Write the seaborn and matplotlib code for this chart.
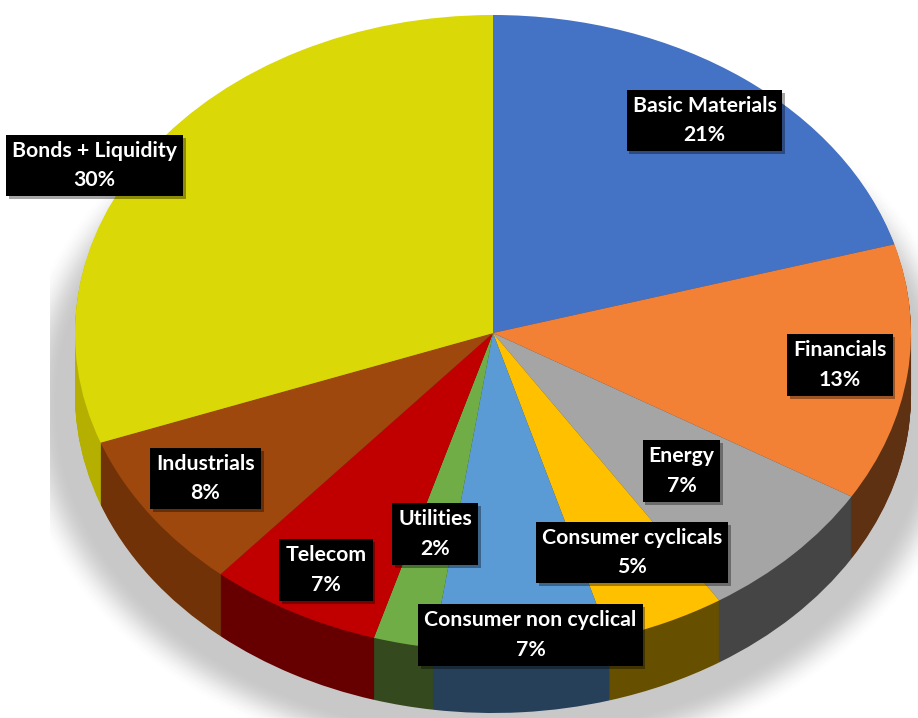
import matplotlib
matplotlib.use("Agg")
import matplotlib.pyplot as plt
import matplotlib.patheffects as pe
from matplotlib.patches import Ellipse, Rectangle
import numpy as np
import seaborn as sns

sectors = ["Basic Materials", "Financials", "Energy", "Consumer cyclicals",
           "Consumer non cyclical", "Utilities", "Telecom", "Industrials",
           "Bonds + Liquidity"]
shown_percent = [21, 13, 7, 5, 7, 2, 7, 8, 30]
slice_sizes = [20.5, 13.1, 7.3, 4.6, 6.8, 2.3, 6.7, 8.1, 30.6]
top_colors = ["#4472C4", "#F28135", "#A5A5A5", "#FFC000", "#5B9BD5",
              "#70AD47", "#C00000", "#9E480E", "#DBD807"]
wall_colors = ["#2A4478", "#5E3113", "#454545", "#665000", "#264059",
               "#34491E", "#660000", "#723208", "#B5B000"]
label_centers_px = [(704.5, 120.5), (840, 365), (681.5, 471), (632, 552.5),
                    (530.5, 635), (435, 534), (326, 570), (205.5, 478.5),
                    (94.5, 165.5)]

W, H = 918, 718
CX, CY, RX, RY = 493, 333, 418, 318
DEPTH = 62


def to_x(px):
    return (px - CX) / RX


def to_y(py):
    return (CY - py) / RY


sns.set_theme(style="white")
plt.rcParams["font.family"] = ["Lato", "DejaVu Sans"]

fig = plt.figure(figsize=(W / 100, H / 100), dpi=100, facecolor="white")
ax = fig.add_axes([0, 0, 1, 1])

# soft shadow, cut off on the left as in the source picture
clip = Rectangle((to_x(50), to_y(H)), to_x(W + 10) - to_x(50), to_y(0) - to_y(H),
                 transform=ax.transData, fc="none", ec="none")
ax.add_patch(clip)
steps = 40
for i in range(steps):
    f = i / (steps - 1)                 # 0 outer edge, 1 inner
    ramp = f * f * (3 - 2 * f)
    grey = 1 - (1 - 200 / 255) * ramp
    e = Ellipse((0, to_y(405)), 2 * (480 - 45 * f) / RX, 2 * (368 - 40 * f) / RY,
                fc=(grey, grey, grey), ec="none", zorder=1)
    ax.add_patch(e)
    e.set_clip_path(clip)

# side wall: the same pie repeated downwards
for d in range(DEPTH, 0, -1):
    wedges, _ = ax.pie(slice_sizes, colors=wall_colors, startangle=90, counterclock=False,
                       radius=1, center=(0, -d / RY), wedgeprops={"linewidth": 0})
    for w in wedges:
        w.set_zorder(2)

wedges, _ = ax.pie(slice_sizes, colors=top_colors, startangle=90, counterclock=False,
                   radius=1, center=(0, 0), wedgeprops={"linewidth": 0})
for w in wedges:
    w.set_zorder(3)

for name, share, (px, py) in zip(sectors, shown_percent, label_centers_px):
    t = ax.text(to_x(px), to_y(py), f"{name}\n{share}%", color="white",
                fontsize=15.3, fontweight="bold", ha="center", va="center",
                linespacing=1.6, zorder=5,
                bbox=dict(boxstyle="square,pad=0.28", fc="black", ec="none"))
    t.get_bbox_patch().set_path_effects(
        [pe.SimplePatchShadow(offset=(2, -2), alpha=0.35), pe.Normal()])

ax.set_aspect("auto")
ax.set_xlim(to_x(0), to_x(W))
ax.set_ylim(to_y(H), to_y(0))
ax.axis("off")
fig.savefig("out.png", dpi=100, facecolor="white")
